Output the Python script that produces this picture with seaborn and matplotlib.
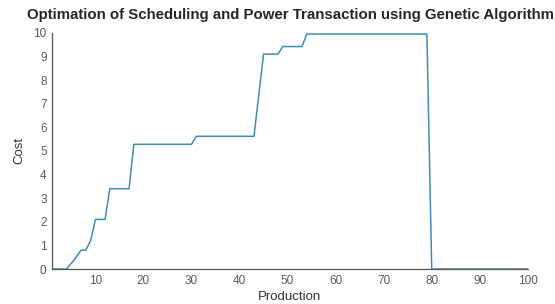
import pandas as pd
import seaborn as sns
import matplotlib.pyplot as plt

# production step (1..100) and the cost found by the GA at each step
production = list(range(1, 101))
cost = (
    [0, 0, 0, 0, 0.25, 0.5, 0.8, 0.8, 1.2, 2.1]
    + [2.1, 2.1, 3.4, 3.4, 3.4, 3.4, 3.4, 5.28, 5.28, 5.28]
    + [5.28] * 10
    + [5.62] * 13
    + [7.35]
    + [9.1, 9.1, 9.1, 9.1]
    + [9.42] * 5
    + [9.95] * 26
    + [0] * 21
)

x_ticks = [10, 20, 30, 40, 50, 60, 70, 80, 90, 100]
y_ticks = list(range(0, 11))

df = pd.DataFrame({"Production": production, "Cost": cost})

sns.set_style("white")
plt.rcParams["font.family"] = ["Liberation Sans", "DejaVu Sans"]

fig = plt.figure(figsize=(5.55, 3.04), dpi=100)
ax = fig.add_axes([0.094, 0.115, 0.857, 0.777])

sns.lineplot(data=df, x="Production", y="Cost", ax=ax, color="#3b8db5", linewidth=1.1)

ax.set_xlim(1, 100)
ax.set_ylim(0, 10)
ax.set_xticks(x_ticks)
ax.set_yticks(y_ticks)
ax.tick_params(direction="in", length=3, width=0.8, labelsize=8.5,
               colors="#5a5a5a", pad=4)
for side in ["top", "right"]:
    ax.spines[side].set_visible(False)
for side in ["left", "bottom"]:
    ax.spines[side].set_color("#555555")
    ax.spines[side].set_linewidth(0.9)

ax.set_xlabel("Production", fontsize=9.5, color="#333333", labelpad=3)
ax.set_ylabel("Cost", fontsize=9.5, color="#333333", labelpad=6)
ax.set_title("Optimation of Scheduling and Power Transaction using Genetic Algorithm",
             fontsize=10.8, fontweight="bold", pad=10)

fig.savefig("out.png", dpi=100)
plt.close()
